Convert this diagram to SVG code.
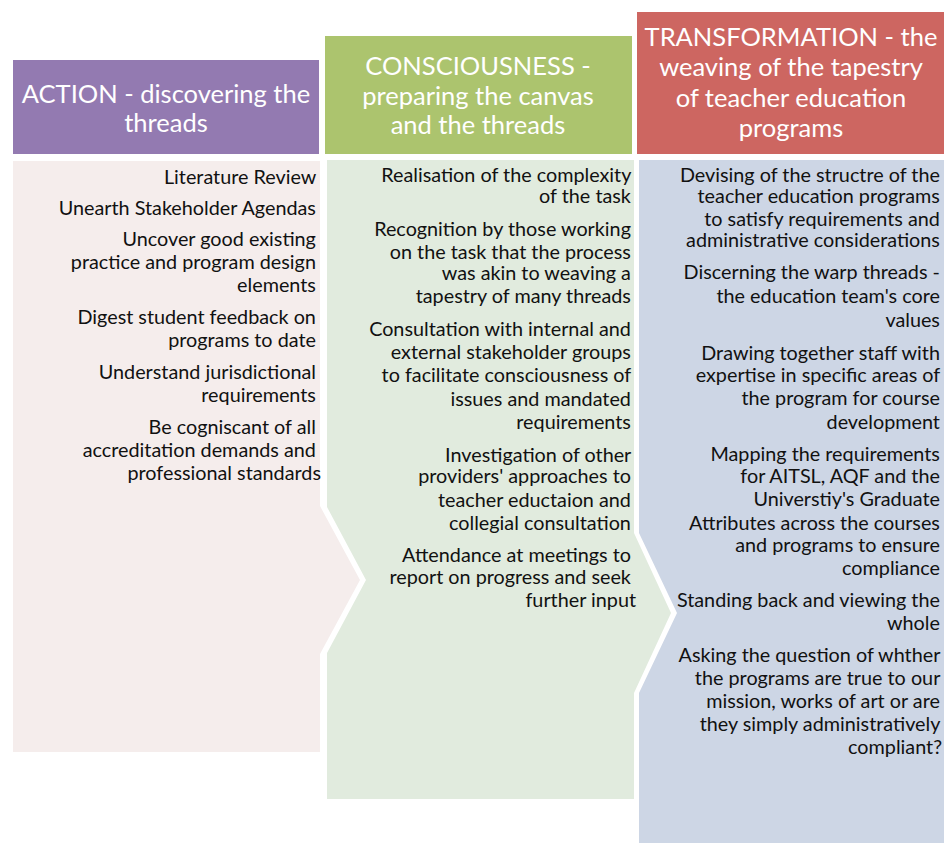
<svg xmlns="http://www.w3.org/2000/svg" width="944" height="843" viewBox="0 0 944 843">
<style>
.hd{font-family:Lato,"Liberation Sans",sans-serif;font-size:25.5px;fill:#ffffff;text-anchor:middle}
.bt{font-family:Lato,"Liberation Sans",sans-serif;font-size:19.8px;fill:#111111;text-anchor:end}
</style>
<rect width="944" height="843" fill="#ffffff"/>
<g id="action">
<rect x="13" y="60" width="306" height="94" fill="#937AB1"/>
<text class="hd"><tspan x="166" y="103">ACTION - discovering the</tspan><tspan x="166" y="132">threads</tspan></text>
<polygon points="13,161 320,161 320,506 360,580 320,654 320,752 13,752" fill="#F5EDEC"/>
<text class="bt">
<tspan x="321" y="184">Literature Review</tspan>
<tspan x="321" y="215">Unearth Stakeholder Agendas</tspan>
<tspan x="321" y="246">Uncover good existing</tspan>
<tspan x="321" y="269">practice and program design</tspan>
<tspan x="321" y="292">elements</tspan>
<tspan x="321" y="324">Digest student feedback on</tspan>
<tspan x="321" y="347">programs to date</tspan>
<tspan x="321" y="379">Understand jurisdictional</tspan>
<tspan x="321" y="402">requirements</tspan>
<tspan x="321" y="434">Be cogniscant of all</tspan>
<tspan x="321" y="457">accreditation demands and</tspan>
<tspan x="321" y="480">professional standards</tspan>
</text>
</g>
<g id="consciousness">
<rect x="325" y="36" width="307" height="118" fill="#ACC46E"/>
<text class="hd"><tspan x="478" y="75">CONSCIOUSNESS -</tspan><tspan x="478" y="104.5">preparing the canvas</tspan><tspan x="478" y="134">and the threads</tspan></text>
<polygon points="327,160 634,160 634,533 671,613 634,693 634,799 327,799 327,653 366,580 327,507" fill="#E1EBDE"/>
<text class="bt">
<tspan x="636" y="182">Realisation of the complexity</tspan>
<tspan x="636" y="203">of the task</tspan>
<tspan x="636" y="235.5">Recognition by those working</tspan>
<tspan x="636" y="258.5">on the task that the process</tspan>
<tspan x="636" y="280">was akin to weaving a</tspan>
<tspan x="636" y="303">tapestry of many threads</tspan>
<tspan x="636" y="335.5">Consultation with internal and</tspan>
<tspan x="636" y="359">external  stakeholder groups</tspan>
<tspan x="636" y="381.5">to facilitate consciousness of</tspan>
<tspan x="636" y="405.5">issues and mandated</tspan>
<tspan x="636" y="428.5">requirements</tspan>
<tspan x="636" y="461.5">Investigation of other</tspan>
<tspan x="636" y="483">providers' approaches to</tspan>
<tspan x="636" y="507">teacher eductaion and</tspan>
<tspan x="636" y="530">collegial consultation</tspan>
<tspan x="636" y="562">Attendance at meetings to</tspan>
<tspan x="636" y="583.5">report on progress and seek</tspan>
<tspan x="636" y="607">further input</tspan>
</text>
</g>
<g id="transformation">
<rect x="637" y="12" width="307" height="142" fill="#CD6661"/>
<text class="hd"><tspan x="791" y="45.5">TRANSFORMATION - the</tspan><tspan x="791" y="76">weaving of the tapestry</tspan><tspan x="791" y="106.5">of teacher education</tspan><tspan x="791" y="137">programs</tspan></text>
<polygon points="639,160 944,160 944,843 639,843 639,693 677,613 639,533" fill="#CDD6E5"/>
<text class="bt">
<tspan x="945" y="181.5">Devising of the structre of the</tspan>
<tspan x="945" y="203">teacher education programs</tspan>
<tspan x="945" y="225.5">to satisfy requirements and</tspan>
<tspan x="945" y="247">administrative considerations</tspan>
<tspan x="945" y="279">Discerning the warp threads -</tspan>
<tspan x="945" y="303">the education team's core</tspan>
<tspan x="945" y="326.5">values</tspan>
<tspan x="945" y="359.5">Drawing together staff with</tspan>
<tspan x="945" y="382">expertise in specific areas of</tspan>
<tspan x="945" y="405">the program for course</tspan>
<tspan x="945" y="428.5">development</tspan>
<tspan x="945" y="460.5">Mapping the requirements</tspan>
<tspan x="945" y="483">for AITSL, AQF and the</tspan>
<tspan x="945" y="506">Universtiy's Graduate</tspan>
<tspan x="945" y="529.5">Attributes across the courses</tspan>
<tspan x="945" y="552">and programs to ensure</tspan>
<tspan x="945" y="575">compliance</tspan>
<tspan x="945" y="607">Standing back and viewing the</tspan>
<tspan x="945" y="629.5">whole</tspan>
<tspan x="945" y="662">Asking the question of whther</tspan>
<tspan x="945" y="685">the programs are true to our</tspan>
<tspan x="945" y="707.5">mission, works of art or are</tspan>
<tspan x="945" y="731">they simply administratively</tspan>
<tspan x="942" y="754">compliant?</tspan>
</text>
</g>
</svg>
